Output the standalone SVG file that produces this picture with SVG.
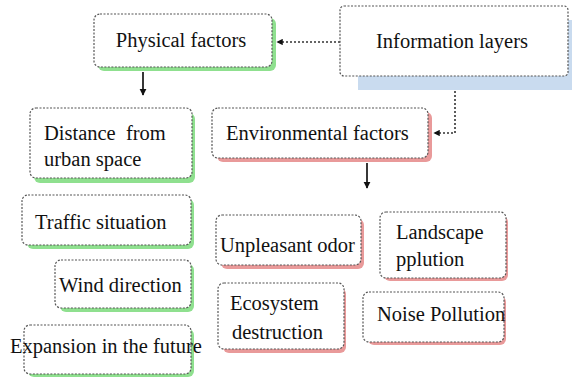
<svg xmlns="http://www.w3.org/2000/svg" width="574" height="381" viewBox="0 0 574 381">
  <style>
    .box { fill: #ffffff; stroke: #555555; stroke-width: 1.2; stroke-dasharray: 2 1.5; }
    .sg { fill: #8fe08f; }
    .sr { fill: #e99a9a; }
    .sb { fill: #c9dbef; }
    .link { fill: none; stroke: #333333; stroke-width: 1.6; stroke-dasharray: 2 2; }
    .solid { fill: none; stroke: #222222; stroke-width: 1.8; }
  </style>
  <defs>
    <marker id="ah" viewBox="0 0 10 10" refX="9" refY="5" markerWidth="4" markerHeight="4" orient="auto">
      <path d="M0,0 L10,5 L0,10 z" fill="#111111"/>
    </marker>
  </defs>
  <rect width="574" height="381" fill="#ffffff"/>

  <g id="connectors">
    <path class="link" d="M340,42 L277,42" marker-end="url(#ah)"/>
    <path class="link" d="M455,75 L455,133 L434,133" marker-end="url(#ah)"/>
    <path class="solid" d="M143,72 L143,95" marker-end="url(#ah)"/>
    <path class="solid" d="M367,163 L367,188" marker-end="url(#ah)"/>
  </g>

  <g font-family="Liberation Serif, Times New Roman, serif" font-size="20.5" fill="#111111">
    <g id="information-layers">
      <rect class="sb" x="358" y="20" width="214" height="70"/>
      <rect class="box" x="340" y="6" width="228" height="70" rx="4"/>
      <text x="452" y="48" text-anchor="middle">Information layers</text>
    </g>

    <g id="physical-factors">
      <rect class="sg" x="98" y="18" width="178" height="53" rx="6"/>
      <rect class="box" x="94" y="14" width="178" height="53" rx="6"/>
      <text x="181" y="47" text-anchor="middle">Physical factors</text>
    </g>

    <g id="environmental-factors">
      <rect class="sr" x="217" y="112" width="215" height="50" rx="6"/>
      <rect class="box" x="212" y="108" width="216" height="50" rx="6"/>
      <text x="226" y="140">Environmental factors</text>
    </g>

    <g id="distance">
      <rect class="sg" x="34" y="113" width="161" height="70" rx="6"/>
      <rect class="box" x="30" y="108" width="162" height="70" rx="6"/>
      <text x="44" y="140" xml:space="preserve">Distance  from</text>
      <text x="44" y="166">urban space</text>
    </g>

    <g id="traffic">
      <rect class="sg" x="27" y="199" width="167" height="50" rx="6"/>
      <rect class="box" x="22" y="195" width="169" height="50" rx="6"/>
      <text x="35" y="229">Traffic situation</text>
    </g>

    <g id="wind">
      <rect class="sg" x="60" y="264" width="134" height="48" rx="6"/>
      <rect class="box" x="55" y="260" width="136" height="48" rx="6"/>
      <text x="59" y="292">Wind direction</text>
    </g>

    <g id="expansion">
      <rect class="sg" x="28" y="329" width="166" height="48" rx="6"/>
      <rect class="box" x="24" y="325" width="167" height="49" rx="6"/>
      <text x="10" y="353">Expansion in the future</text>
    </g>

    <g id="unpleasant">
      <rect class="sr" x="221" y="219" width="143" height="50" rx="6"/>
      <rect class="box" x="216" y="215" width="145" height="50" rx="6"/>
      <text x="220" y="252">Unpleasant odor</text>
    </g>

    <g id="landscape">
      <rect class="sr" x="384" y="216" width="124" height="65" rx="6"/>
      <rect class="box" x="380" y="212" width="126" height="66" rx="6"/>
      <text x="396" y="239">Landscape</text>
      <text x="396" y="266">pplution</text>
    </g>

    <g id="ecosystem">
      <rect class="sr" x="223" y="288" width="123" height="65" rx="6"/>
      <rect class="box" x="218" y="283" width="126" height="66" rx="6"/>
      <text x="230" y="310">Ecosystem</text>
      <text x="232" y="339">destruction</text>
    </g>

    <g id="noise">
      <rect class="sr" x="368" y="296" width="138" height="49" rx="6"/>
      <rect class="box" x="363" y="292" width="141" height="50" rx="6"/>
      <text x="377" y="321">Noise Pollution</text>
    </g>
  </g>
</svg>
